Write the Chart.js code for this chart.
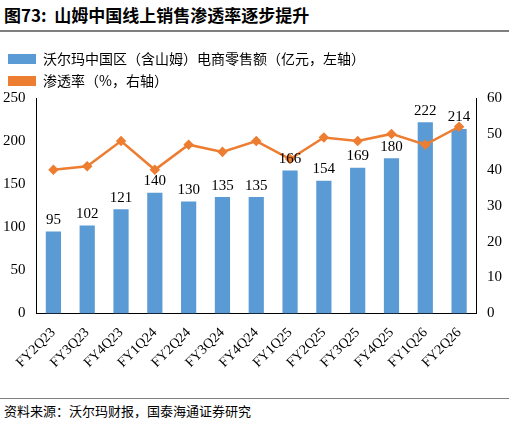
<!DOCTYPE html>
<html><head><meta charset="utf-8">
<script src="https://cdn.jsdelivr.net/npm/chart.js@4"></script>
<style>
body{margin:0;width:509px;height:427px;background:#fff;font-family:"Noto Sans CJK SC";position:relative;overflow:hidden}
#t{position:absolute;left:4px;top:2px;font-size:17px;font-weight:bold;color:#000}
#l1{position:absolute;left:0;top:30px;width:509px;border-top:2px solid #7f7f7f}
#l2{position:absolute;left:0;top:398px;width:509px;border-top:1px solid #7f7f7f}
#s{position:absolute;left:4px;top:401px;font-size:13px;color:#000}
#c{position:absolute;left:0;top:44px}
</style></head><body>
<div id="t">图73:&nbsp;&nbsp;山姆中国线上销售渗透率逐步提升</div>
<div id="l1"></div>
<canvas id="c" width="509" height="352"></canvas>
<div id="l2"></div>
<div id="s">资料来源：沃尔玛财报，国泰海通证券研究</div>
<script>
const categories=["FY2Q23","FY3Q23","FY4Q23","FY1Q24","FY2Q24","FY3Q24","FY4Q24","FY1Q25","FY2Q25","FY3Q25","FY4Q25","FY1Q26","FY2Q26"];
const sales=[95,102,121,140,130,135,135,166,154,169,180,222,214];
const penetration=[40,41,48,40,47,45,48,43,49,48,50,47,52];
const leftTicks=[0,50,100,150,200,250];
const rightTicks=[0,10,20,30,40,50,60];
const font="'Times New Roman','Liberation Serif',serif";
const labelPlugin={id:'lbl',afterDatasetsDraw(ch){const c=ch.ctx;const m=ch.getDatasetMeta(1);c.save();c.font="15px "+font;c.fillStyle="#000";c.textAlign="center";c.textBaseline="bottom";m.data.forEach((b,i)=>c.fillText(sales[i],b.x,b.y-4));c.restore();}};
new Chart(document.getElementById('c'),{
data:{labels:categories,datasets:[
{type:'line',label:'渗透率（%，右轴）',data:penetration,yAxisID:'y1',borderColor:'#ED7D31',backgroundColor:'#ED7D31',borderWidth:2.5,pointStyle:'rectRot',pointRadius:3.5,order:0},
{type:'bar',label:'沃尔玛中国区（含山姆）电商零售额（亿元，左轴）',data:sales,yAxisID:'y',backgroundColor:'#5B9BD5',barPercentage:0.45,categoryPercentage:1,order:1}
]},
options:{responsive:false,animation:false,
layout:{padding:{left:0,right:4,top:0,bottom:22}},
plugins:{legend:{position:'top',align:'start',labels:{font:{size:14,family:"'Noto Sans CJK SC'"},color:'#000',boxWidth:28,boxHeight:10,padding:8,
generateLabels(ch){return [{text:'沃尔玛中国区（含山姆）电商零售额（亿元，左轴）',fillStyle:'#5B9BD5',strokeStyle:'#5B9BD5',lineWidth:0,datasetIndex:1},{text:'渗透率（%，右轴）',fillStyle:'#ED7D31',strokeStyle:'#ED7D31',lineWidth:0,datasetIndex:0}];}}},tooltip:{enabled:false}},
scales:{
x:{grid:{display:false,drawTicks:true},border:{color:'#000'},ticks:{color:'#000',font:{size:14,family:font},maxRotation:45,minRotation:45}},
y:{min:0,max:250,afterBuildTicks(s){s.ticks=leftTicks.map(v=>({value:v}));},grid:{display:false},border:{color:'#000'},ticks:{color:'#000',font:{size:15,family:font}}},
y1:{position:'right',min:0,max:60,afterBuildTicks(s){s.ticks=rightTicks.map(v=>({value:v}));},grid:{display:false},border:{color:'#000'},ticks:{color:'#000',font:{size:15,family:font}}}
}},
plugins:[labelPlugin]
});
</script></body></html>
